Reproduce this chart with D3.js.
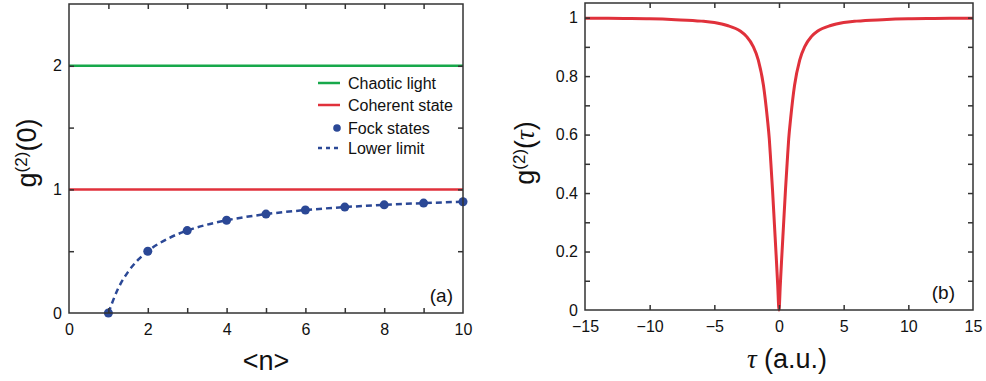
<!DOCTYPE html>
<html>
<head>
<meta charset="utf-8">
<script src="https://cdn.jsdelivr.net/npm/d3@7"></script>
<style>
  body { margin: 0; background: #fff; }
  svg { display: block; font-family: "Liberation Sans", Arial, sans-serif; }
  .axis path, .axis line { stroke: #333; }
  .axis text { font-size: 16px; fill: #111; }
</style>
</head>
<body>
<div id="chart"></div>
<script>
// panel (a): g2(0) against mean photon number
const fockN = [1, 2, 3, 4, 5, 6, 7, 8, 9, 10];
const fockG2 = [0, 0.5, 0.667, 0.75, 0.8, 0.833, 0.857, 0.875, 0.889, 0.9];
const limitN = [1, 1.25, 1.5, 1.75, 2, 2.5, 3, 3.5, 4, 5, 6, 7, 8, 9, 10];
const limitG2 = [0, 0.2, 0.333, 0.429, 0.5, 0.6, 0.667, 0.714, 0.75, 0.8, 0.833, 0.857, 0.875, 0.889, 0.9];
const chaoticLevel = 2;
const coherentLevel = 1;
const legendLabels = ['Chaotic light', 'Coherent state', 'Fock states', 'Lower limit'];
const xTicksA = [0, 2, 4, 6, 8, 10];
const yTicksA = [0, 1, 2];

// panel (b): g2(tau)
const tau = [-15, -12, -10, -8, -6, -5, -4, -3, -2.5, -2, -1.6, -1.2, -0.9, -0.75, -0.64, -0.5, -0.35, -0.2, -0.1, 0,
             0.1, 0.2, 0.35, 0.5, 0.64, 0.75, 0.9, 1.2, 1.6, 2, 2.5, 3, 4, 5, 6, 8, 10, 12, 15];
const g2tau = [0.998, 0.997, 0.996, 0.993, 0.988, 0.983, 0.973, 0.954, 0.935, 0.902, 0.855, 0.768, 0.655, 0.585, 0.51, 0.41, 0.29, 0.17, 0.085, 0,
               0.085, 0.17, 0.29, 0.41, 0.51, 0.585, 0.655, 0.768, 0.855, 0.902, 0.935, 0.954, 0.973, 0.983, 0.988, 0.993, 0.996, 0.997, 0.998];
const xTicksB = [-15, -10, -5, 0, 5, 10, 15];
const yTicksB = [0, 0.2, 0.4, 0.6, 0.8, 1];

const green = '#17a84b';
const red = '#e0313b';
const blue = '#2b4896';

const svg = d3.select('#chart').append('svg')
    .attr('width', 986)
    .attr('height', 381);

const fmtMinus = d => d < 0 ? '\u2212' + Math.abs(d) : String(d);

// draws a closed box with inward ticks on all four sides
function frame(g, x, y, xMinor, yMinor, xLabels, yLabels, xFmt, yFmt) {
  const [x0, x1] = x.range();
  const [y0, y1] = y.range();
  g.append('rect')
      .attr('x', x0).attr('y', y1)
      .attr('width', x1 - x0).attr('height', y0 - y1)
      .attr('fill', 'none').attr('stroke', '#333').attr('stroke-width', 1.5);

  const axes = [
    d3.axisBottom(x).tickValues(xMinor).tickSize(-5).tickFormat(''),
    d3.axisTop(x).tickValues(xMinor).tickSize(-5).tickFormat(''),
    d3.axisLeft(y).tickValues(yMinor).tickSize(-5).tickFormat(''),
    d3.axisRight(y).tickValues(yMinor).tickSize(-5).tickFormat('')
  ];
  const shifts = [`translate(0,${y0})`, `translate(0,${y1})`, `translate(${x0},0)`, `translate(${x1},0)`];
  axes.forEach((ax, i) => {
    const a = g.append('g').attr('class', 'axis').attr('transform', shifts[i]).call(ax);
    a.select('.domain').remove();
    a.selectAll('line').attr('stroke-width', 1.5);
  });

  g.append('g').attr('class', 'axis')
      .attr('transform', `translate(0,${y0})`)
      .call(d3.axisBottom(x).tickValues(xLabels).tickSize(0).tickPadding(11).tickFormat(xFmt))
      .call(a => a.select('.domain').remove());
  g.append('g').attr('class', 'axis')
      .attr('transform', `translate(${x0},0)`)
      .call(d3.axisLeft(y).tickValues(yLabels).tickSize(0).tickPadding(7).tickFormat(yFmt))
      .call(a => a.select('.domain').remove());
}

// ---------- panel (a) ----------
const xa = d3.scaleLinear().domain([0, 10]).range([69, 463]);
const ya = d3.scaleLinear().domain([0, 2.5]).range([313, 4]);
const ga = svg.append('g');

ga.append('line')
    .attr('x1', xa(0)).attr('x2', xa(10))
    .attr('y1', ya(chaoticLevel)).attr('y2', ya(chaoticLevel))
    .attr('stroke', green).attr('stroke-width', 2.5);
ga.append('line')
    .attr('x1', xa(0)).attr('x2', xa(10))
    .attr('y1', ya(coherentLevel)).attr('y2', ya(coherentLevel))
    .attr('stroke', red).attr('stroke-width', 2.5);

const limitLine = d3.line()
    .x((d, i) => xa(limitN[i]))
    .y(d => ya(d))
    .curve(d3.curveMonotoneX);
ga.append('path')
    .datum(limitG2)
    .attr('d', limitLine)
    .attr('fill', 'none')
    .attr('stroke', blue)
    .attr('stroke-width', 2.5)
    .attr('stroke-dasharray', '6,4');

ga.selectAll('circle.fock')
    .data(fockG2)
    .join('circle')
    .classed('fock', true)
    .attr('cx', (d, i) => xa(fockN[i]))
    .attr('cy', d => ya(d))
    .attr('r', 4.5)
    .attr('fill', blue);

frame(ga, xa, ya, d3.range(1, 10), [0.5, 1, 1.5, 2], xTicksA, yTicksA, d => d, d => d);

// legend
const legend = ga.append('g').attr('transform', 'translate(318, 83)');
legendLabels.forEach((label, i) => {
  const yy = [0, 22, 45, 65][i];
  const row = legend.append('g').attr('transform', `translate(0,${yy})`);
  if (i < 2) {
    row.append('line').attr('x1', 0).attr('x2', 22).attr('stroke', i === 0 ? green : red).attr('stroke-width', 2.5);
  } else if (i === 2) {
    row.append('circle').attr('cx', 19).attr('r', 3.8).attr('fill', blue);
  } else {
    row.append('line').attr('x1', 0).attr('x2', 22).attr('stroke', blue)
        .attr('stroke-width', 2.5).attr('stroke-dasharray', '4,4');
  }
  row.append('text')
      .attr('x', 30).attr('y', 6)
      .attr('font-size', 16).attr('fill', '#111')
      .text(label);
});

ga.append('text').attr('x', 453).attr('y', 302)
    .attr('text-anchor', 'end').attr('font-size', 19).attr('fill', '#111').text('(a)');

ga.append('text')
    .attr('transform', 'translate(36,153) rotate(-90)')
    .attr('text-anchor', 'middle')
    .attr('font-size', 27)
    .attr('fill', '#111')
    .html('g<tspan baseline-shift="super" font-size="17">(2)</tspan>(0)');

ga.append('text').attr('x', 266).attr('y', 370)
    .attr('text-anchor', 'middle').attr('font-size', 27).attr('fill', '#111').text('<n>');

// ---------- panel (b) ----------
const xb = d3.scaleLinear().domain([-15, 15]).range([585, 973]);
const yb = d3.scaleLinear().domain([0, 1.05]).range([310, 3]);
const gb = svg.append('g');

const tauLine = d3.line()
    .x((d, i) => xb(tau[i]))
    .y(d => yb(d))
    .curve(d3.curveMonotoneX);
gb.append('path')
    .datum(g2tau)
    .attr('d', tauLine)
    .attr('fill', 'none')
    .attr('stroke', red)
    .attr('stroke-width', 3);

frame(gb, xb, yb, [-10, -5, 0, 5, 10], d3.range(1, 11).map(v => v / 10), xTicksB, yTicksB, fmtMinus, d => d);

gb.append('text').attr('x', 955).attr('y', 299)
    .attr('text-anchor', 'end').attr('font-size', 19).attr('fill', '#111').text('(b)');

gb.append('text')
    .attr('transform', 'translate(534,153) rotate(-90)')
    .attr('text-anchor', 'middle')
    .attr('font-size', 27)
    .attr('fill', '#111')
    .html('g<tspan baseline-shift="super" font-size="17">(2)</tspan>(<tspan font-family="Liberation Serif" font-style="italic">\u03c4</tspan>)');

gb.append('text').attr('x', 787).attr('y', 368)
    .attr('text-anchor', 'middle').attr('font-size', 27).attr('fill', '#111')
    .html('<tspan font-family="Liberation Serif" font-style="italic">\u03c4</tspan> (a.u.)');
</script>
</body>
</html>
